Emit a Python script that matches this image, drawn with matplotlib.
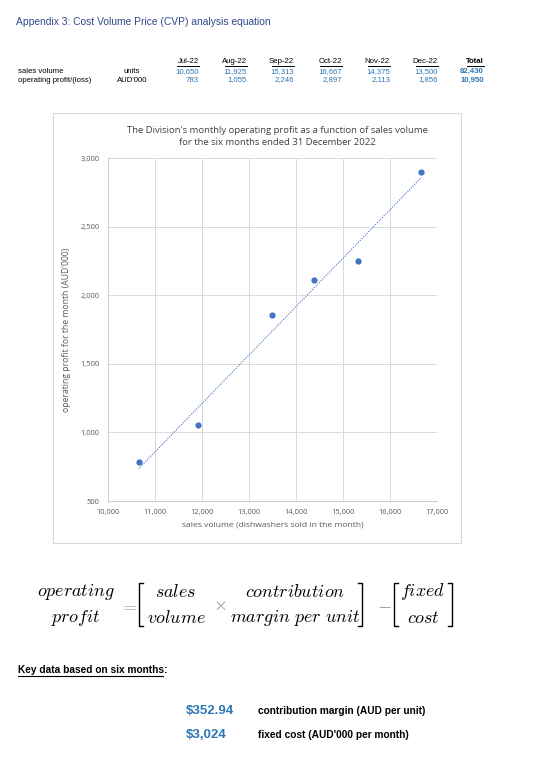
import numpy as np
import matplotlib
matplotlib.use("Agg")
import matplotlib.pyplot as plt
from matplotlib.patches import Rectangle
from matplotlib.lines import Line2D
from matplotlib.ticker import FuncFormatter

# Data
months = ["Jul-22", "Aug-22", "Sep-22", "Oct-22", "Nov-22", "Dec-22"]
sales_volume = [10650, 11925, 15313, 16667, 14375, 13500]
operating_profit = [783, 1055, 2246, 2897, 2113, 1856]
total_volume = 82430
total_profit = 10950
cm_per_unit = 352.94      # AUD per unit
fixed_cost = 3024         # AUD'000 per month

W, H = 544, 759
fig = plt.figure(figsize=(W / 100, H / 100), dpi=100)
fig.patch.set_facecolor("white")

narrow = ["Liberation Sans Narrow", "Liberation Sans", "DejaVu Sans"]
calib = ["Open Sans", "DejaVu Sans"]
blue = "#2E75B6"
navy = "#2F4A8A"
tfs = 5.6


def px(x, y):
    # pixel position (from top left) -> figure fraction
    return x / W, 1 - y / H


# Header
fig.text(*px(16, 22), "Appendix 3: Cost Volume Price (CVP) analysis equation",
         family=narrow, fontsize=7.4, color=navy, va="center", ha="left")

# Table
col_right = [199, 247, 294, 342, 390, 438]
fig.text(*px(18, 71.5), "sales volume", family=narrow, fontsize=tfs, va="center")
fig.text(*px(18, 80), "operating profit/(loss)", family=narrow, fontsize=tfs, va="center")
fig.text(*px(140, 71.5), "units", family=narrow, fontsize=tfs, va="center", ha="right")
fig.text(*px(147, 80), "AUD'000", family=narrow, fontsize=tfs, va="center", ha="right")
for m, v, p, xr in zip(months, sales_volume, operating_profit, col_right):
    fig.text(*px(xr, 61.5), m, family=narrow, fontsize=tfs, va="center", ha="right")
    fig.text(*px(xr, 71.5), f"{v:,}", family=narrow, fontsize=tfs, va="center", ha="right", color=blue)
    fig.text(*px(xr, 80), f"{p:,}", family=narrow, fontsize=tfs, va="center", ha="right", color=blue)
    fig.add_artist(Line2D([(xr - 22) / W, xr / W], [1 - 66 / H] * 2, color="black", lw=0.7))
fig.text(*px(484, 61.5), "Total", family=narrow, fontsize=tfs, va="center", ha="right", weight="bold")
fig.add_artist(Line2D([(484 - 17) / W, 484 / W], [1 - 66 / H] * 2, color="black", lw=0.7))
fig.text(*px(484, 71.5), f"{total_volume:,}", family=narrow, fontsize=tfs, va="center", ha="right",
         color=blue, weight="bold")
fig.text(*px(484, 80), f"{total_profit:,}", family=narrow, fontsize=tfs, va="center", ha="right",
         color=blue, weight="bold")

# Chart box
fig.add_artist(Rectangle((53 / W, 1 - 543 / H), (461 - 53) / W, (543 - 113) / H,
                         transform=fig.transFigure, fill=False, edgecolor="#d9d9d9", lw=0.8))

ax = fig.add_axes([108 / W, 1 - 501 / H, (437 - 108) / W, (501 - 158) / H])
ax.set_xlim(10000, 17000)
ax.set_ylim(500, 3000)
ax.set_xticks(range(10000, 17001, 1000))
ax.set_yticks(range(500, 3001, 500))
fmt = FuncFormatter(lambda v, _: f"{int(v):,}")
ax.xaxis.set_major_formatter(fmt)
ax.yaxis.set_major_formatter(fmt)
ax.grid(True, color="#d9d9d9", lw=0.7)
ax.set_axisbelow(True)
for s in ["top", "right"]:
    ax.spines[s].set_visible(False)
for s in ["left", "bottom"]:
    ax.spines[s].set_color("#d0d0d0")
    ax.spines[s].set_linewidth(0.8)
ax.tick_params(length=0, labelsize=5.4, colors="#595959", pad=6)
for lab in ax.get_xticklabels() + ax.get_yticklabels():
    lab.set_family(calib)

ax.scatter(sales_volume, operating_profit, s=12, color="#4472C4", zorder=3)
xs = np.array([min(sales_volume), max(sales_volume)])
ax.plot(xs, cm_per_unit / 1000 * xs - fixed_cost, ls=(0, (1, 1.2)), lw=0.8, color="#4472C4")

ax.set_xlabel("sales volume (dishwashers sold in the month)", family=calib, fontsize=6.1,
              color="#595959", labelpad=4)
ax.set_ylabel("operating profit for the month (AUD'000)", family=calib, fontsize=6.2,
              color="#595959", labelpad=7)
fig.text(*px(277, 136.5), "The Division's monthly operating profit as a function of sales volume\n"
         "for the six months ended 31 December 2022", family=calib, fontsize=6.8,
         color="#404040", ha="center", va="center", linespacing=1.45)

# Equation
plt.rcParams["mathtext.fontset"] = "cm"
eq = 13


def mt(x, y, s, **kw):
    fig.text(*px(x, y), s, fontsize=eq, ha="center", va="center", **kw)


mt(76, 592, r"$\mathit{operating}$")
mt(76, 618, r"$\mathit{profit}$")
mt(128, 605, r"$=$", color="#a6a6a6")
mt(176, 592, r"$\mathit{sales}$")
mt(176, 618, r"$\mathit{volume}$")
mt(220, 605, r"$\times$", color="#808080")
mt(295, 592, r"$\mathit{contribution}$")
mt(295, 618, r"$\mathit{margin\ per\ unit}$")
mt(384, 605, r"$-$", color="#808080")
mt(423, 592, r"$\mathit{fixed}$")
mt(423, 618, r"$\mathit{cost}$")


def bracket(x, side):
    y0, y1 = 583, 626
    d = 4 if side == "l" else -4
    xs_ = [x + d, x, x, x + d]
    ys_ = [y0, y0, y1, y1]
    fig.add_artist(Line2D([v / W for v in xs_], [1 - v / H for v in ys_], color="black", lw=1.0))


bracket(139, "l")
bracket(362, "r")
bracket(394, "l")
bracket(452, "r")

# Key data
fig.text(*px(18, 670), "Key data based on six months:", family=narrow, fontsize=7.3,
         weight="bold", va="center")
fig.add_artist(Line2D([18 / W, 163 / W], [1 - 676 / H] * 2, color="black", lw=0.8))
fig.text(*px(186, 711), f"\\${cm_per_unit:.2f}", family=narrow, fontsize=9.5, weight="bold",
         color=blue, va="center")
fig.text(*px(186, 735), f"\\${fixed_cost:,}", family=narrow, fontsize=9.5, weight="bold",
         color=blue, va="center")
fig.text(*px(258, 711), "contribution margin (AUD per unit)", family=narrow, fontsize=7.3,
         weight="bold", va="center")
fig.text(*px(258, 735), "fixed cost (AUD'000 per month)", family=narrow, fontsize=7.3,
         weight="bold", va="center")

fig.savefig("out.png", dpi=100)
